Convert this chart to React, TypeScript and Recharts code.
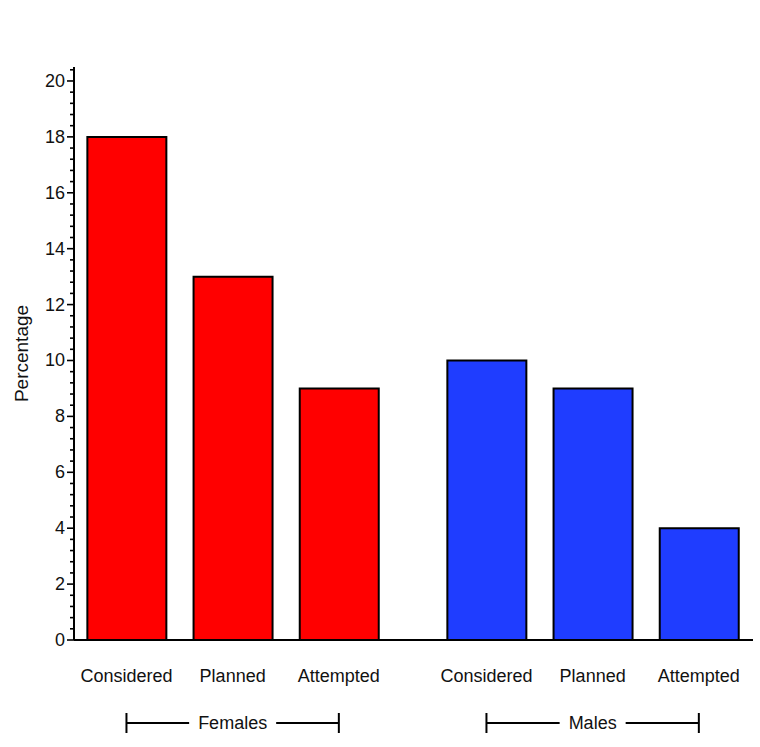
import React from 'react';
import { BarChart, Bar, XAxis, YAxis, Cell, ReferenceLine } from 'recharts';

const stages = ['Considered', 'Planned', 'Attempted'];
const groups = ['Females', 'Males'];
const femaleValues = [18, 13, 9];
const maleValues = [10, 9, 4];
const groupColors = ['#ff0000', '#1f3dff'];
// major ticks every 2, minor every 0.4
const yTicks = Array.from({ length: 52 }, (_, k) => Math.round(k * 4) / 10);

const GROUP_GAP = 0.39; // extra room between the two groups, in bar slots
const FONT = '"Liberation Sans", Arial, Helvetica, sans-serif';

const seriesByGroup = [femaleValues, maleValues];
const data = groups.flatMap((g, gi) =>
  stages.map((s, si) => ({
    group: g,
    stage: s,
    gi,
    value: seriesByGroup[gi][si],
    pos: gi * (stages.length + GROUP_GAP) + si,
  })),
);
const xTicks = data.map((d) => d.pos);

const textWidth = (s: string) => {
  try {
    const ctx = document.createElement('canvas').getContext('2d');
    if (ctx) {
      ctx.font = `18px ${FONT}`;
      return ctx.measureText(s).width;
    }
  } catch (e) {}
  return s.length * 10;
};

const YTick = (props: any) => {
  const { x, y, payload } = props;
  const v = payload.value;
  const major = Math.abs(v / 2 - Math.round(v / 2)) < 1e-6;
  return (
    <g>
      <line x1={x - (major ? 7 : 4)} x2={x} y1={y} y2={y} stroke="#000" strokeWidth={1.6} />
      {major && (
        <text x={x - 9} y={y} textAnchor="end" dominantBaseline="central" fontSize={18} fill="#111" fontFamily={FONT}>
          {v}
        </text>
      )}
    </g>
  );
};

const XTick = (props: any) => {
  const { x, y, payload } = props;
  const row = data.find((d) => Math.abs(d.pos - payload.value) < 1e-6);
  return (
    <text x={x} y={y + 36} textAnchor="middle" dominantBaseline="central" fontSize={18} fill="#111" fontFamily={FONT}>
      {row ? row.stage : ''}
    </text>
  );
};

const bracket = (name: string) => (props: any) => {
  const vb = props.viewBox || {};
  const x1 = vb.x1 ?? vb.x;
  const x2 = vb.x2 ?? vb.x + vb.width;
  const y = (vb.y1 ?? vb.y) + 83;
  const cx = (x1 + x2) / 2;
  const half = textWidth(name) / 2 + 9;
  return (
    <g>
      <line x1={x1} x2={cx - half} y1={y} y2={y} stroke="#000" strokeWidth={2} />
      <line x1={cx + half} x2={x2} y1={y} y2={y} stroke="#000" strokeWidth={2} />
      <line x1={x1} x2={x1} y1={y - 10} y2={y + 10} stroke="#000" strokeWidth={2} />
      <line x1={x2} x2={x2} y1={y - 10} y2={y + 10} stroke="#000" strokeWidth={2} />
      <text x={cx} y={y} textAnchor="middle" dominantBaseline="central" fontSize={18} fill="#111" fontFamily={FONT}>
        {name}
      </text>
    </g>
  );
};

const yLabel = (props: any) => {
  const vb = props.viewBox;
  const x = vb.x + 21;
  const y = vb.y + vb.height / 2;
  return (
    <text
      x={x}
      y={y}
      transform={`rotate(-90 ${x} ${y})`}
      textAnchor="middle"
      dominantBaseline="central"
      fontSize={19}
      fill="#111"
      fontFamily={FONT}
    >
      Percentage
    </text>
  );
};

export default function App() {
  return (
    <div style={{ position: 'absolute', left: 0, top: 0, background: '#fff' }}>
      <BarChart width={760} height={747} data={data} margin={{ top: 67, right: 7, left: 0, bottom: 0 }}>
        <XAxis
          type="number"
          dataKey="pos"
          domain={[-0.494, 5.9]}
          ticks={xTicks}
          interval={0}
          height={107}
          tickSize={0}
          tickMargin={0}
          tickLine={false}
          axisLine={{ stroke: '#000', strokeWidth: 2 }}
          tick={(p: any) => <XTick {...p} />}
        />
        <YAxis
          type="number"
          domain={[0, 20.5]}
          ticks={yTicks}
          interval={0}
          width={74}
          tickSize={0}
          tickMargin={0}
          tickLine={false}
          axisLine={{ stroke: '#000', strokeWidth: 2 }}
          tick={(p: any) => <YTick {...p} />}
          label={{ content: yLabel }}
        />
        <Bar dataKey="value" barSize={79} stroke="#000" strokeWidth={2} isAnimationActive={false}>
          {data.map((d, i) => (
            <Cell key={i} fill={groupColors[d.gi]} />
          ))}
        </Bar>
        {groups.map((g, gi) => {
          const rows = data.filter((d) => d.gi === gi);
          return (
            <ReferenceLine
              key={g}
              segment={[
                { x: rows[0].pos, y: 0 },
                { x: rows[rows.length - 1].pos, y: 0 },
              ]}
              stroke="none"
              ifOverflow="visible"
              label={bracket(g)}
            />
          );
        })}
      </BarChart>
    </div>
  );
}
